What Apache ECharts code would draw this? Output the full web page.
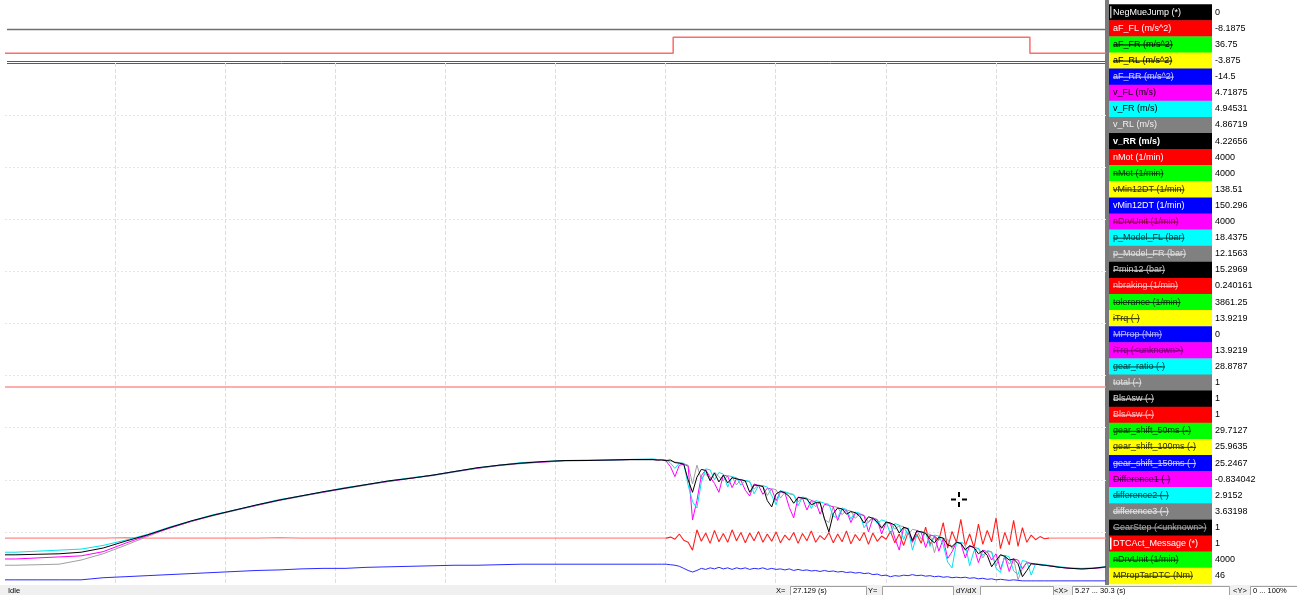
<!DOCTYPE html>
<html>
<head>
<meta charset="utf-8">
<script src="https://cdn.jsdelivr.net/npm/echarts@6/dist/echarts.min.js"></script>
<style>
  html, body { margin: 0; padding: 0; background: #fff; }
  #chart { width: 1297px; height: 595px; }
</style>
</head>
<body>
<div id="chart"></div>
<script>
// Messschrieb: Raddrehzahlen beim Bremsen, Werte in % der Anzeigehöhe (<Y> 0 ... 100%)

// ─── Daten ─────────────────────────────────────────────────────────────────────

const time = [
  5.27, 5.5, 6.0, 6.5, 7.0, 7.5, 8.0, 8.5, 9.0, 9.5, 10.0, 10.5, 11.0, 11.5, 12.0, 12.5,
  13.0, 13.5, 14.0, 14.5, 15.0, 15.5, 16.0, 16.5, 17.0, 17.5, 18.0, 18.5, 19.0, 19.5, 20.0,
  20.1, 20.2, 20.3, 20.4, 20.5, 20.6, 20.7, 20.8, 20.9, 21.0,
  21.1, 21.2, 21.3, 21.4, 21.5, 21.6, 21.7, 21.8, 21.9, 22.0,
  22.1, 22.2, 22.3, 22.4, 22.5, 22.6, 22.7, 22.8, 22.9, 23.0,
  23.1, 23.2, 23.3, 23.4, 23.5, 23.6, 23.7, 23.8, 23.9, 24.0,
  24.1, 24.2, 24.3, 24.4, 24.5, 24.6, 24.7, 24.8, 24.9, 25.0,
  25.1, 25.2, 25.3, 25.4, 25.5, 25.6, 25.7, 25.8, 25.9, 26.0,
  26.1, 26.2, 26.3, 26.4, 26.5, 26.6, 26.7, 26.8, 26.9, 27.0,
  27.1, 27.2, 27.3, 27.4, 27.5, 27.6, 27.7, 27.8, 27.9, 28.0,
  28.1, 28.2, 28.3, 28.4, 28.5, 28.6, 28.7, 28.8, 28.9, 29.0,
  29.25, 29.5, 29.75, 30.0, 30.3
]

const vRR = [
  5.6, 5.6, 5.7, 5.8, 6.1, 6.9, 8.2, 9.4, 10.8, 12.1, 13.2, 14.2, 15.2, 16.1, 16.9, 17.7,
  18.4, 19.1, 19.8, 20.3, 20.9, 21.6, 22.3, 22.8, 23.2, 23.5, 23.7, 23.7, 23.8, 23.9, 23.9,
  23.8, 23.8, 23.7, 23.8, 23.3, 23.2, 23.0, 20.0, 17.6, 20.5,
  22.0, 21.8, 19.8, 21.3, 19.6, 20.9, 19.4, 20.4, 20.2, 20.0,
  19.8, 17.6, 19.0, 18.9, 18.7, 16.0, 14.8, 17.3, 17.8, 17.5,
  16.8, 15.5, 16.6, 16.5, 16.3, 15.2, 15.6, 15.6, 12.5, 10.0,
  13.5, 14.6, 14.4, 13.4, 13.9, 13.7, 13.0, 11.7, 12.9, 12.6,
  11.9, 10.7, 11.9, 11.7, 11.3, 9.8, 10.9, 10.6, 8.4, 10.2,
  10.0, 9.7, 8.6, 7.9, 9.0, 8.8, 7.5, 7.2, 8.0, 7.8,
  6.6, 7.3, 7.0, 5.8, 6.4, 5.5, 3.3, 4.5, 5.6, 5.3,
  4.6, 4.8, 3.9, 1.4, 2.6, 3.9, 3.8, 3.7, 3.6, 3.5,
  3.2, 3.0, 2.9, 3.0, 3.3
]

const vFR = [
  6.1, 6.1, 6.3, 6.5, 6.7, 7.4, 8.4, 9.5, 10.9, 12.1, 13.3, 14.2, 15.2, 16.2, 16.9, 17.7,
  18.5, 19.1, 19.8, 20.4, 20.9, 21.6, 22.3, 22.8, 23.3, 23.5, 23.7, 23.8, 23.8, 23.9, 24.0,
  23.9, 23.9, 23.8, 23.2, 22.2, 23.2, 23.2, 19.0, 15.8, 14.6,
  19.5, 22.1, 21.9, 20.0, 21.4, 21.1, 18.6, 20.6, 20.4, 19.0,
  19.9, 19.7, 17.3, 18.9, 18.9, 18.6, 17.0, 15.2, 17.9, 17.7,
  17.4, 17.2, 15.0, 16.7, 16.5, 14.5, 16.0, 15.8, 15.5, 15.3,
  13.0, 12.7, 14.6, 14.3, 12.5, 13.8, 13.6, 10.8, 12.0, 12.8,
  11.6, 12.3, 12.0, 9.6, 11.6, 11.3, 8.5, 10.8, 6.5, 9.4,
  10.1, 9.9, 7.2, 9.4, 9.2, 7.5, 4.2, 3.1, 7.9, 8.0,
  7.7, 3.5, 6.4, 6.9, 5.5, 6.4, 6.2, 3.0, 2.2, 5.5,
  5.2, 2.5, 1.8, 4.5, 4.3, 1.7, 3.9, 3.8, 3.7, 3.6,
  3.3, 3.1, 3.0, 3.1, 3.3
]

const vFL = [
  4.8, 4.8, 5.0, 5.2, 5.4, 6.2, 7.8, 9.3, 10.7, 12.0, 13.2, 14.2, 15.1, 16.1, 16.9, 17.6,
  18.4, 19.1, 19.7, 20.3, 20.9, 21.6, 22.2, 22.8, 23.2, 23.4, 23.7, 23.7, 23.8, 23.9, 23.9,
  23.8, 23.9, 23.6, 22.5, 20.6, 22.8, 23.0, 22.6, 12.3, 16.0,
  20.8, 21.9, 20.5, 19.3, 17.6, 20.9, 20.7, 18.5, 20.2, 19.9,
  18.0, 16.9, 19.2, 18.9, 17.2, 18.4, 18.2, 16.0, 17.7, 17.5,
  14.7, 12.7, 16.7, 16.5, 14.2, 16.0, 15.8, 13.4, 15.3, 15.1,
  14.8, 12.2, 14.4, 14.1, 11.8, 13.6, 13.4, 13.1, 10.0, 12.6,
  12.3, 9.6, 11.8, 11.6, 8.8, 6.5, 10.9, 10.6, 8.0, 10.2,
  9.9, 7.0, 9.4, 9.2, 6.3, 8.7, 4.9, 6.2, 8.0, 7.8,
  5.0, 7.3, 7.0, 4.1, 6.5, 6.2, 4.6, 5.8, 2.8, 5.3,
  2.4, 4.8, 4.6, 2.9, 4.1, 3.9, 3.8, 3.7, 3.6, 3.5,
  3.2, 3.0, 2.9, 3.0, 3.2
]

const vRL = [
  3.6, 3.6, 3.7, 3.8, 4.6, 5.8, 7.4, 9.1, 10.7, 12.0, 13.1, 14.1, 15.1, 16.0, 16.8, 17.6,
  18.3, 19.0, 19.7, 20.3, 20.8, 21.5, 22.2, 22.7, 23.1, 23.4, 23.6, 23.7, 23.7, 23.8, 23.8,
  23.8, 23.8, 23.7, 23.6, 23.4, 23.3, 23.1, 22.8, 19.2, 22.8,
  20.2, 21.2, 20.0, 21.5, 20.6, 19.8, 20.8, 20.6, 19.0, 20.1,
  19.8, 19.6, 18.2, 19.0, 18.8, 17.0, 18.3, 18.1, 16.5, 17.6,
  17.3, 17.1, 15.8, 16.6, 16.4, 16.1, 14.8, 15.7, 12.4, 11.8,
  14.9, 14.7, 13.3, 14.2, 14.0, 12.6, 13.5, 13.2, 11.8, 12.7,
  12.4, 10.9, 11.9, 11.7, 10.5, 11.2, 11.0, 9.4, 10.5, 10.3,
  8.6, 9.8, 9.5, 6.0, 9.1, 8.8, 8.6, 6.8, 8.1, 7.9,
  6.4, 7.4, 7.1, 6.8, 5.0, 6.3, 6.1, 3.4, 5.6, 5.4,
  3.8, 4.9, 0.8, 3.1, 4.2, 4.0, 3.8, 3.7, 3.6, 3.5,
  3.2, 3.0, 2.9, 3.0, 3.2
]

const aFL = [
  8.8, 8.8, 8.8, 8.8, 8.8, 8.8, 8.9, 8.8, 8.8, 8.8, 8.8, 8.8, 8.8, 8.9, 8.8, 8.8,
  8.8, 8.8, 8.8, 8.8, 8.8, 8.8, 8.8, 8.8, 8.8, 8.8, 8.8, 8.8, 8.8, 8.8, 8.8,
  8.8, 8.8, 8.8, 9.0, 8.6, 9.6, 8.4, 8.0, 6.5, 10.4,
  8.2, 9.8, 7.8, 10.3, 8.1, 9.7, 8.0, 10.4, 8.3, 9.9,
  7.9, 9.8, 8.3, 10.1, 8.0, 9.6, 8.2, 10.0, 7.9, 9.4,
  8.4, 9.9, 7.8, 9.7, 8.3, 10.2, 8.0, 9.3, 8.5, 9.9,
  7.9, 9.6, 8.1, 10.2, 7.7, 9.5, 8.3, 9.9, 7.6, 9.8,
  8.2, 9.2, 8.6, 10.1, 7.9, 9.6, 7.4, 9.9, 8.1, 9.5,
  7.8, 10.9, 7.6, 9.2, 8.4, 11.8, 6.9, 10.1, 8.0, 12.4,
  7.3, 9.6, 7.0, 11.5, 7.6, 10.3, 8.1, 12.7, 6.8, 9.9,
  7.5, 12.2, 7.2, 10.8, 8.0, 9.4, 8.5, 9.1, 8.7, 8.8,
  8.8, 8.8, 8.8, 8.8, 8.8
]

const vMin12DT = [
  0.8, 0.8, 0.8, 0.8, 0.8, 1.2, 1.4, 1.6, 1.8, 2.0, 2.2, 2.4, 2.6, 2.7, 2.9, 3.0,
  3.0, 3.2, 3.3, 3.4, 3.5, 3.6, 3.6, 3.7, 3.8, 3.8, 3.8, 3.8, 3.8, 3.8, 3.8,
  3.8, 3.8, 3.8, 3.7, 3.6, 3.4, 3.0, 2.6, 2.3, 2.6,
  3.0, 2.8, 3.1, 2.9, 3.2, 2.9, 3.1, 2.8, 3.1, 2.9,
  3.1, 2.8, 3.0, 2.9, 3.1, 2.8, 3.0, 2.8, 2.9, 2.7,
  2.9, 2.6, 2.8, 2.6, 2.7, 2.5, 2.6, 2.4, 2.6, 2.4,
  2.5, 2.3, 2.4, 2.2, 2.3, 2.1, 2.2, 2.0, 2.1, 1.8,
  1.9, 1.6, 1.7, 1.4, 1.6, 1.5, 1.7, 1.6, 1.8, 1.6,
  1.7, 1.5, 1.6, 1.4, 1.5, 1.3, 1.4, 1.2, 1.3, 1.2,
  1.3, 1.1, 1.2, 1.0, 1.1, 0.9, 1.0, 0.8, 0.9, 0.8,
  0.7, 0.8, 0.7, 0.6, 0.6, 0.6, 0.6, 0.6, 0.6, 0.6,
  0.6, 0.6, 0.6, 0.6, 0.6
]

const nMotTime = [5.27, 30.3]
const nMotVal  = [37.8, 37.8]

const dtcTime = [5.27, 20.46, 28.57, 30.3]
const dtcVal  = [0, 1, 0, 0]

// Kanal-Liste rechts
const chanNames = [
  'NegMueJump (*)', 'aF_FL (m/s^2)', 'aF_FR (m/s^2)', 'aF_RL (m/s^2)', 'aF_RR (m/s^2)',
  'v_FL (m/s)', 'v_FR (m/s)', 'v_RL (m/s)', 'v_RR (m/s)', 'nMot (1/min)', 'nMot (1/min)',
  'vMin12DT (1/min)', 'vMin12DT (1/min)', 'nDrvUnit (1/min)', 'p_Model_FL (bar)',
  'p_Model_FR (bar)', 'Pmin12 (bar)', 'nbraking (1/min)', 'tolerance (1/min)', 'iTrq (-)',
  'MProp (Nm)', 'iTrq (<unknown>)', 'gear_ratio (-)', 'total (-)', 'BlsAsw (-)', 'BlsAsw (-)',
  'gear_shift_50ms (-)', 'gear_shift_100ms (-)', 'gear_shift_150ms (-)', 'Difference1 (-)',
  'difference2 (-)', 'difference3 (-)', 'GearStep (<unknown>)', 'DTCAct_Message (*)',
  'nDrvUnit (1/min)', 'MPropTarDTC (Nm)'
]
const chanValues = [
  '0', '-8.1875', '36.75', '-3.875', '-14.5', '4.71875', '4.94531', '4.86719', '4.22656',
  '4000', '4000', '138.51', '150.296', '4000', '18.4375', '12.1563', '15.2969', '0.240161',
  '3861.25', '13.9219', '0', '13.9219', '28.8787', '1', '1', '1', '29.7127', '25.9635',
  '25.2467', '-0.834042', '2.9152', '3.63198', '1', '1', '4000', '46'
]
const chanColors = [
  '#000000', '#ff0000', '#00ff00', '#ffff00', '#0000ff', '#ff00ff', '#00ffff', '#808080',
  '#000000', '#ff0000', '#00ff00', '#ffff00', '#0000ff', '#ff00ff', '#00ffff', '#808080',
  '#000000', '#ff0000', '#00ff00', '#ffff00', '#0000ff', '#ff00ff', '#00ffff', '#808080',
  '#000000', '#ff0000', '#00ff00', '#ffff00', '#0000ff', '#ff00ff', '#00ffff', '#808080',
  '#000000', '#ff0000', '#00ff00', '#ffff00'
]
const chanTextColors = [
  '#ffffff', '#ffffff', '#000000', '#000000', '#d0d0ff', '#000000', '#000000', '#f0f0f0',
  '#ffffff', '#ffffff', '#003000', '#303000', '#ffffff', '#8a0040', '#003c3c', '#e0e0e0',
  '#c8c8c8', '#ffb4b4', '#003000', '#303000', '#b4b4ff', '#700070', '#003c3c', '#e0e0e0',
  '#d8d8d8', '#ffc0c0', '#003000', '#303000', '#d0d0ff', '#400040', '#003c3c', '#e8e8e8',
  '#a8a8a8', '#ffffff', '#003000', '#303000'
]
// 1 = ausgeblendet (durchgestrichen)
const chanHidden = [
  0, 0, 1, 1, 1, 0, 0, 0, 0, 0, 1, 1, 0, 1, 1, 1, 1, 1,
  1, 1, 1, 1, 1, 1, 1, 1, 1, 1, 1, 1, 1, 1, 1, 0, 1, 1
]

// ─── Aufbau ────────────────────────────────────────────────────────────────────

const pairs = (xs, ys) => xs.map((x, i) => [x, ys[i]])

const FONT = '9px "Liberation Sans", Arial, sans-serif'
const SMALL = '7.5px "Liberation Sans", Arial, sans-serif'
const measure = document.createElement('canvas').getContext('2d')

function legendGraphics() {
  const out = []
  const top0 = 4.2, rowH = 16.1
  out.push({ type: 'rect', shape: { x: 1105, y: 0, width: 4, height: 585 }, style: { fill: '#7a7a7a' } })
  chanNames.forEach((name, i) => {
    const y = top0 + i * rowH
    const cy = y + rowH / 2
    const font = (i === 8 ? 'bold ' : '') + FONT
    out.push({ type: 'rect', shape: { x: 1109, y, width: 103, height: rowH + 0.4 }, style: { fill: chanColors[i] } })
    out.push({ type: 'text', x: 1113, y: cy, style: { text: name, fill: chanTextColors[i], font, verticalAlign: 'middle' } })
    if (chanHidden[i]) {
      measure.font = font
      const w = measure.measureText(name).width
      out.push({ type: 'line', shape: { x1: 1113, y1: cy + 0.5, x2: 1113 + w, y2: cy + 0.5 }, style: { stroke: chanTextColors[i], lineWidth: 1 } })
    }
    out.push({ type: 'text', x: 1215, y: cy, style: { text: chanValues[i], fill: '#000', font: FONT, verticalAlign: 'middle' } })
  })
  // Auswahlmarker
  out.push({ type: 'rect', shape: { x: 1110, y: top0 + 2, width: 1.5, height: rowH - 4 }, style: { fill: '#b0b0b0' } })
  out.push({ type: 'rect', shape: { x: 1110, y: top0 + 33 * rowH + 2, width: 1.5, height: rowH - 4 }, style: { fill: '#ffffff' } })
  return out
}

function statusGraphics() {
  const out = [{ type: 'rect', shape: { x: 0, y: 585, width: 1297, height: 10 }, style: { fill: '#f0f0f0' } }]
  const label = (x, text) => out.push({ type: 'text', x, y: 591, style: { text, fill: '#000', font: SMALL, verticalAlign: 'middle' } })
  const box = (x, w, text) => {
    out.push({ type: 'rect', shape: { x: x + 0.5, y: 586.5, width: w, height: 10 }, style: { fill: '#fff', stroke: '#a0a0a0', lineWidth: 1 } })
    if (text) label(x + 3, text)
  }
  label(8, 'Idle')
  label(776, 'X=');   box(790, 76, '27.129 (s)')
  label(868, 'Y=');   box(882, 71, '')
  label(956, 'dY/dX'); box(980, 73, '')
  label(1054, '<X>'); box(1072, 157, '5.27 ... 30.3 (s)')
  label(1233, '<Y>'); box(1250, 48, '0 ... 100%')
  return out
}

function frameGraphics() {
  const ln = (y, c, w) => ({ type: 'line', shape: { x1: 7, y1: y, x2: 1105, y2: y }, style: { stroke: c, lineWidth: w } })
  const cur = (x1, y1, x2, y2) => ({ type: 'line', shape: { x1, y1, x2, y2 }, style: { stroke: '#000', lineWidth: 2 } })
  return [
    ln(29.5, '#707070', 1.5),
    ln(61.5, '#5a5a5a', 1),
    ln(63.5, '#5a5a5a', 1),
    // Mauszeiger
    cur(951, 499.5, 956, 499.5), cur(962, 499.5, 967, 499.5),
    cur(959, 492, 959, 497), cur(959, 502, 959, 507)
  ]
}

const line = (name, x, y, color, width, extra) => Object.assign({
  name, type: 'line', xAxisIndex: 1, yAxisIndex: 0, data: pairs(x, y),
  showSymbol: false, symbol: 'none', animation: false,
  lineStyle: color ? { color, width } : { width }
}, extra || {})

const option = {
  animation: false,
  backgroundColor: '#ffffff',
  grid: [
    { left: 5, top: 63, width: 1101, height: 521, show: false },
    { left: 5, top: 29, width: 1101, height: 33, show: false }
  ],
  xAxis: [
    { gridIndex: 0, type: 'value', min: 0, max: 10, interval: 1,
      axisLine: { show: false }, axisTick: { show: false }, axisLabel: { show: false },
      splitLine: { show: true, showMinLine: false, showMaxLine: false, lineStyle: { color: '#dddddd', type: [4, 2], width: 1 } } },
    { gridIndex: 0, type: 'value', min: 5.27, max: 30.3, show: false },
    { gridIndex: 1, type: 'value', min: 5.27, max: 30.3, show: false }
  ],
  yAxis: [
    { gridIndex: 0, type: 'value', min: 0, max: 100, interval: 10,
      axisLine: { show: false }, axisTick: { show: false }, axisLabel: { show: false },
      splitLine: { show: true, showMinLine: false, showMaxLine: false, lineStyle: { color: '#e6e6e6', type: [2, 2], width: 1 } } },
    { gridIndex: 1, type: 'value', min: -0.55, max: 1.52, show: false }
  ],
  // aF_FL: Ruhelage blass, Schwingung kräftig rot
  visualMap: [{
    show: false, type: 'piecewise', seriesIndex: 2, dimension: 0,
    pieces: [
      { lt: 20.3, color: '#ff8a8a' },
      { gte: 20.3, lt: 29.0, color: '#ff1e1e' },
      { gte: 29.0, color: '#ff8a8a' }
    ]
  }],
  series: [
    line('nMot', nMotTime, nMotVal, '#ff9090', 1.6),
    line('vMin12DT', time, vMin12DT, '#2a2aff', 1),
    line('aF_FL', time, aFL, null, 1.1),
    line('v_RL', time, vRL, '#a0a0a0', 1),
    line('v_FL', time, vFL, '#ff00ff', 1),
    line('v_FR', time, vFR, '#00e4f0', 1),
    line('v_RR', time, vRR, '#000000', 1),
    line('DTCAct_Message', dtcTime, dtcVal, '#ff6a6a', 1.5, { xAxisIndex: 2, yAxisIndex: 1, step: 'end' })
  ],
  graphic: [...frameGraphics(), ...legendGraphics(), ...statusGraphics()]
}

const chart = echarts.init(document.getElementById('chart'), null, { renderer: 'canvas' })
chart.setOption(option)
</script>
</body>
</html>
